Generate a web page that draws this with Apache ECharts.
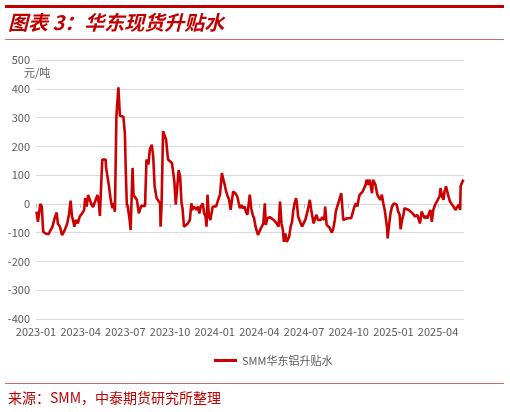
<!DOCTYPE html>
<html>
<head>
<meta charset="utf-8">
<script src="https://cdn.jsdelivr.net/npm/echarts@6/dist/echarts.min.js"></script>
<style>
html,body{margin:0;padding:0;background:#fff;}
#chart{width:510px;height:412px;}
</style>
</head>
<body>
<div id="chart"></div>
<script>
var seriesName = 'SMM华东铝升贴水';
var yTicks = [-400, -300, -200, -100, 0, 100, 200, 300, 400, 500];
var xTickLabels = ['2023-01','2023-04','2023-07','2023-10','2024-01','2024-04','2024-07','2024-10','2025-01','2025-04'];

var dates = [
 '2023-01-02','2023-01-05','2023-01-08','2023-01-10','2023-01-13','2023-01-16','2023-01-21','2023-01-27','2023-01-31',
 '2023-02-04','2023-02-08','2023-02-12','2023-02-14','2023-02-18','2023-02-22','2023-02-27',
 '2023-03-04','2023-03-08','2023-03-11','2023-03-14','2023-03-16','2023-03-19','2023-03-22','2023-03-26','2023-03-30',
 '2023-04-04','2023-04-08','2023-04-10','2023-04-13','2023-04-16','2023-04-18','2023-04-23','2023-04-26','2023-04-30',
 '2023-05-05','2023-05-08','2023-05-10','2023-05-12','2023-05-15','2023-05-22','2023-05-23','2023-05-26','2023-05-29',
 '2023-06-02','2023-06-05','2023-06-07','2023-06-10','2023-06-13','2023-06-15','2023-06-17','2023-06-20','2023-06-27','2023-06-30',
 '2023-07-02','2023-07-04','2023-07-06','2023-07-10','2023-07-12','2023-07-16','2023-07-18','2023-07-22','2023-07-25','2023-07-29',
 '2023-08-03','2023-08-07','2023-08-11','2023-08-14','2023-08-17','2023-08-18','2023-08-21','2023-08-25','2023-08-28','2023-08-31',
 '2023-09-04','2023-09-08','2023-09-11','2023-09-12','2023-09-14','2023-09-17','2023-09-20','2023-09-23','2023-09-27',
 '2023-10-01','2023-10-05','2023-10-08','2023-10-10','2023-10-13','2023-10-16','2023-10-19','2023-10-22','2023-10-25','2023-10-27','2023-10-30',
 '2023-11-03','2023-11-07','2023-11-11','2023-11-14','2023-11-16','2023-11-19','2023-11-22','2023-11-25','2023-11-27','2023-11-30',
 '2023-12-03','2023-12-07','2023-12-10','2023-12-13','2023-12-15','2023-12-17','2023-12-20','2023-12-23','2023-12-26','2023-12-28',
 '2024-01-01','2024-01-04','2024-01-07','2024-01-09','2024-01-12','2024-01-16','2024-01-19','2024-01-22','2024-01-24','2024-01-27','2024-01-31',
 '2024-02-03','2024-02-05','2024-02-08','2024-02-12','2024-02-16','2024-02-18','2024-02-21','2024-02-24','2024-02-26',
 '2024-03-01','2024-03-04','2024-03-07','2024-03-10','2024-03-12','2024-03-15','2024-03-18','2024-03-21','2024-03-24','2024-03-26','2024-03-29',
 '2024-04-01','2024-04-04','2024-04-06','2024-04-09','2024-04-12','2024-04-14','2024-04-17','2024-04-20','2024-04-22','2024-04-26','2024-04-30',
 '2024-05-03','2024-05-06','2024-05-10','2024-05-13','2024-05-16','2024-05-19','2024-05-21','2024-05-24','2024-05-27','2024-05-30',
 '2024-06-01','2024-06-04','2024-06-07','2024-06-09','2024-06-12','2024-06-15','2024-06-17','2024-06-19','2024-06-23','2024-06-27',
 '2024-07-01','2024-07-04','2024-07-08','2024-07-11','2024-07-13','2024-07-16','2024-07-19','2024-07-21','2024-07-24','2024-07-27','2024-07-30',
 '2024-08-02','2024-08-05','2024-08-08','2024-08-12','2024-08-14','2024-08-17','2024-08-20','2024-08-23','2024-08-25','2024-08-28','2024-08-31',
 '2024-09-03','2024-09-05','2024-09-08','2024-09-11','2024-09-14','2024-09-16','2024-09-19','2024-09-20','2024-09-24','2024-09-28',
 '2024-10-02','2024-10-06','2024-10-10','2024-10-13','2024-10-16','2024-10-19','2024-10-22','2024-10-24','2024-10-27','2024-10-30',
 '2024-11-02','2024-11-05','2024-11-07','2024-11-10','2024-11-13','2024-11-15','2024-11-18','2024-11-20','2024-11-22','2024-11-25','2024-11-28','2024-11-30',
 '2024-12-03','2024-12-05','2024-12-08','2024-12-11','2024-12-14','2024-12-16','2024-12-19','2024-12-20','2024-12-23','2024-12-26','2024-12-29',
 '2025-01-02','2025-01-04','2025-01-08','2025-01-11','2025-01-14','2025-01-16','2025-01-19','2025-01-22','2025-01-24','2025-01-28',
 '2025-02-02','2025-02-05','2025-02-09','2025-02-12','2025-02-14','2025-02-18','2025-02-21','2025-02-23','2025-02-26',
 '2025-03-01','2025-03-04','2025-03-07','2025-03-10','2025-03-13','2025-03-16','2025-03-19','2025-03-22','2025-03-26','2025-03-30',
 '2025-04-04','2025-04-06','2025-04-09','2025-04-12','2025-04-14','2025-04-17','2025-04-20','2025-04-22','2025-04-25','2025-04-28',
 '2025-05-02','2025-05-06','2025-05-10','2025-05-13','2025-05-16','2025-05-17','2025-05-20','2025-05-23'
];

var values = [
 -27,-62,-68,0,-9,-97,-103,-105,-109,
 -79,-50,-30,-68,-79,-109,-91,
 -68,-33,11,-44,-56,-79,-56,-68,-44,
 -33,-21,20,-9,31,26,-3,-11,-9,
 31,0,-42,40,154,154,125,125,61,
 8,-15,3,-27,306,306,405,306,303,247,
 107,2,-9,-56,-91,125,31,31,14,-33,
 -7,-11,-7,154,154,137,189,206,165,61,
 20,14,2,-79,-3,253,247,224,154,
 148,142,137,78,-3,2,117,96,2,-15,-79,
 -79,-68,-56,2,-21,-9,-7,-21,-9,-33,
 -9,2,-33,-44,-79,32,-44,-56,-27,-9,
 -3,-9,8,2,32,107,84,66,49,32,14,
 -21,-15,43,37,26,20,-15,-3,-15,
 -9,-27,-38,-38,32,-15,-38,-50,-79,-85,-108,
 -108,-85,-85,-68,2,-73,-50,-50,-46,-50,-56,
 -62,-68,-79,8,-68,-91,-132,-103,-132,-138,
 -114,-79,-62,-27,2,20,-3,-44,-62,-79,
 -82,-54,-27,-3,14,-21,-50,-68,-50,-38,-56,
 -50,-56,-46,-56,-9,-73,-79,-82,-85,-100,-85,
 -56,-27,-9,8,26,37,43,-56,-54,-50,
 -50,-50,-44,-9,2,-9,20,32,26,43,
 49,66,84,66,84,66,37,84,84,66,37,26,
 26,14,32,2,-21,-21,-85,-120,-73,-33,-9,
 2,5,-3,-27,-38,-88,-56,-38,-15,-19,
 -21,-27,-33,-33,-44,-38,-56,-68,-27,
 -33,-50,-42,-50,-33,-21,-62,-21,-3,2,
 26,55,26,14,43,61,66,26,8,2,
 -9,-21,-21,-3,-21,61,75,84
];

function monthIndex(s) {
  var p = s.split('-');
  var y = +p[0], mo = +p[1], d = +p[2];
  var dim = new Date(y, mo, 0).getDate();
  return (y - 2023) * 12 + (mo - 1) + (d - 1) / dim;
}
var seriesData = dates.map(function (d, i) { return [monthIndex(d), values[i]]; });
var xMax = monthIndex('2025-05-24');

var chart = echarts.init(document.getElementById('chart'), null, {renderer: 'canvas'});
var font = '"Noto Sans CJK SC", "Noto Sans", sans-serif';
var red = '#C00000';
var lineRed = '#CC0000';

chart.setOption({
  animation: false,
  backgroundColor: '#ffffff',
  textStyle: {fontFamily: font},
  grid: {left: 36, right: 46, top: 60, bottom: 93, containLabel: false},
  legend: {
    data: [seriesName],
    left: 209, top: 350,
    icon: 'rect', itemWidth: 23, itemHeight: 3, itemGap: 5,
    textStyle: {color: '#595959', fontSize: 11, fontFamily: font}
  },
  xAxis: {
    type: 'value',
    min: 0, max: xMax, interval: 3,
    splitLine: {show: false},
    axisLine: {show: true, lineStyle: {color: '#D9D9D9', width: 1}},
    axisTick: {show: true, length: 4, lineStyle: {color: '#BFBFBF'}},
    axisLabel: {
      color: '#595959', fontSize: 11, margin: 7, showMaxLabel: false,
      formatter: function (v) {
        var k = Math.round(v / 3);
        if (Math.abs(v - k * 3) > 1e-6) return '';
        return xTickLabels[k] || '';
      }
    }
  },
  yAxis: {
    type: 'value',
    min: yTicks[0], max: yTicks[yTicks.length - 1], interval: 100,
    axisLine: {show: false},
    axisTick: {show: false},
    splitLine: {show: true, lineStyle: {color: '#D9D9D9', width: 1}},
    axisLabel: {color: '#595959', fontSize: 11, margin: 6}
  },
  series: [{
    name: seriesName,
    type: 'line',
    data: seriesData,
    showSymbol: false,
    symbol: 'none',
    lineStyle: {color: lineRed, width: 2.6},
    itemStyle: {color: lineRed}
  }],
  graphic: [
    {type: 'rect', left: 5, top: 5, shape: {width: 499, height: 3}, style: {fill: red}, silent: true},
    {type: 'text', left: 8, top: 12, style: {text: '图表 3：华东现货升贴水', fill: red, font: 'italic bold 20px ' + font}},
    {type: 'rect', left: 5, top: 39, shape: {width: 499, height: 1}, style: {fill: '#D46A6A'}, silent: true},
    {type: 'text', left: 24, top: 67, style: {text: '元/吨', fill: '#595959', font: '11px ' + font}},
    {type: 'rect', left: 5, top: 383, shape: {width: 499, height: 1}, style: {fill: '#D46A6A'}, silent: true},
    {type: 'text', left: 8, top: 391, style: {text: '来源：SMM，中泰期货研究所整理', fill: red, font: '14px ' + font}}
  ]
});
</script>
</body>
</html>
